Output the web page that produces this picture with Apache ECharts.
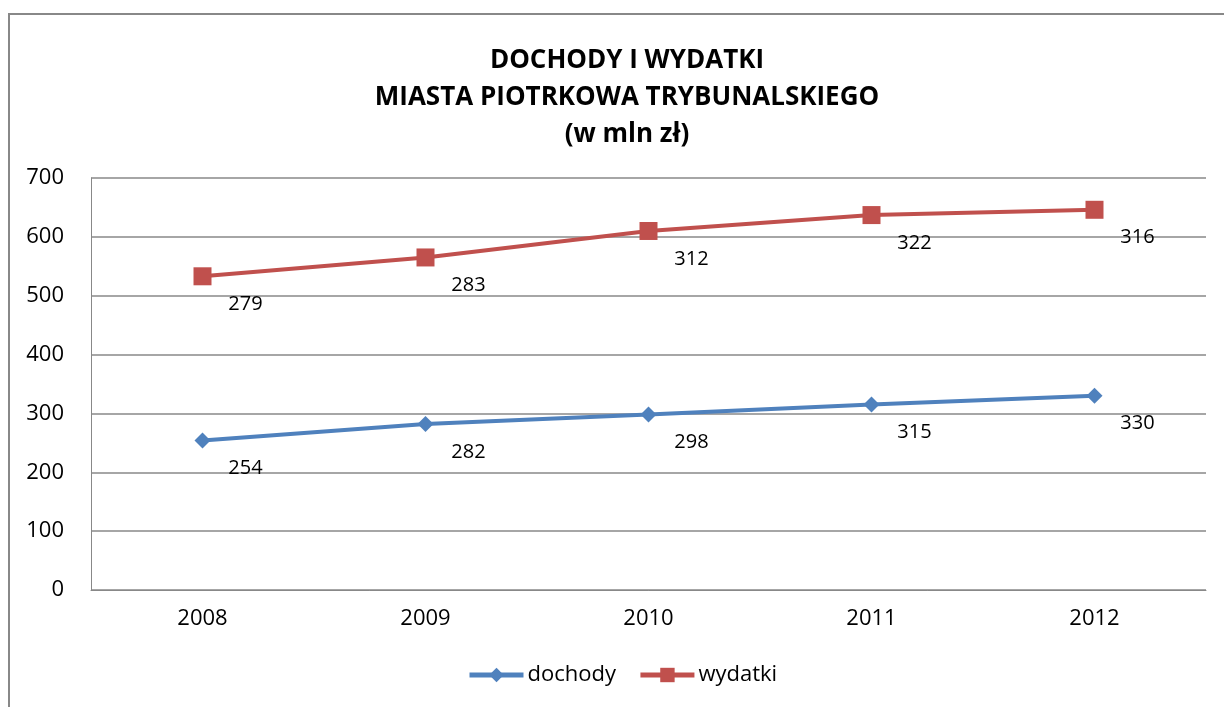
<!DOCTYPE html>
<html><head><meta charset="utf-8">
<script src="https://cdn.jsdelivr.net/npm/echarts@6/dist/echarts.min.js"></script>
<style>html,body{margin:0;padding:0;background:#fff}#c{width:1224px;height:707px}</style>
</head><body><div id="c"></div>
<script>
const years = ['2008','2009','2010','2011','2012'];
const dochody = [254, 282, 298, 315, 330];
const wydatki = [279, 283, 312, 322, 316];
const yTicks = [0, 100, 200, 300, 400, 500, 600, 700];

const FONT = '"Open Sans", "Noto Sans", sans-serif';
const chart = echarts.init(document.getElementById('c'), null, {renderer: 'canvas'});
const labelCfg = {
  show: true, position: 'inside', offset: [43, 28],
  color: '#000', fontSize: 20, fontFamily: FONT
};
chart.setOption({
  animation: false,
  backgroundColor: '#fff',
  title: {
    text: 'DOCHODY I WYDATKI\nMIASTA PIOTRKOWA TRYBUNALSKIEGO\n(w mln zł)',
    left: 622, top: 37, textAlign: 'center',
    textStyle: {fontFamily: FONT, fontWeight: 'bold', fontSize: 26, color: '#000', lineHeight: 37}
  },
  graphic: [{
    type: 'rect', shape: {x: 9, y: 14, width: 1240, height: 720},
    style: {fill: 'none', stroke: '#888', lineWidth: 2}, silent: true
  }],
  legend: {
    bottom: 16, left: 462, itemWidth: 54, itemHeight: 18, itemGap: 22,
    textStyle: {fontFamily: FONT, fontSize: 22, color: '#000', padding: [0, 0, 0, -1]},
    lineStyle: {width: 5},
    data: ['dochody', 'wydatki']
  },
  grid: {left: 91, right: 18, top: 178, bottom: 117},
  xAxis: {
    type: 'category', data: years, boundaryGap: true,
    axisLine: {lineStyle: {color: '#888', width: 1}},
    axisTick: {show: false},
    axisLabel: {fontFamily: FONT, fontSize: 22, color: '#000', margin: 18}
  },
  yAxis: {
    type: 'value', min: 0, max: yTicks[yTicks.length - 1], interval: 100,
    axisLine: {show: true, lineStyle: {color: '#888', width: 1}},
    axisTick: {show: false},
    axisLabel: {fontFamily: FONT, fontSize: 22, color: '#000', margin: 27},
    splitLine: {lineStyle: {color: '#888', width: 1.5}}
  },
  series: [
    {
      name: 'dochody', type: 'line', stack: 'total', data: dochody,
      symbol: 'diamond', symbolSize: 16,
      lineStyle: {color: '#4F81BD', width: 4},
      itemStyle: {color: '#4F81BD'},
      label: labelCfg
    },
    {
      name: 'wydatki', type: 'line', stack: 'total', data: wydatki,
      symbol: 'rect', symbolSize: 18,
      lineStyle: {color: '#C0504D', width: 4},
      itemStyle: {color: '#C0504D'},
      label: labelCfg
    }
  ]
});
</script></body></html>
